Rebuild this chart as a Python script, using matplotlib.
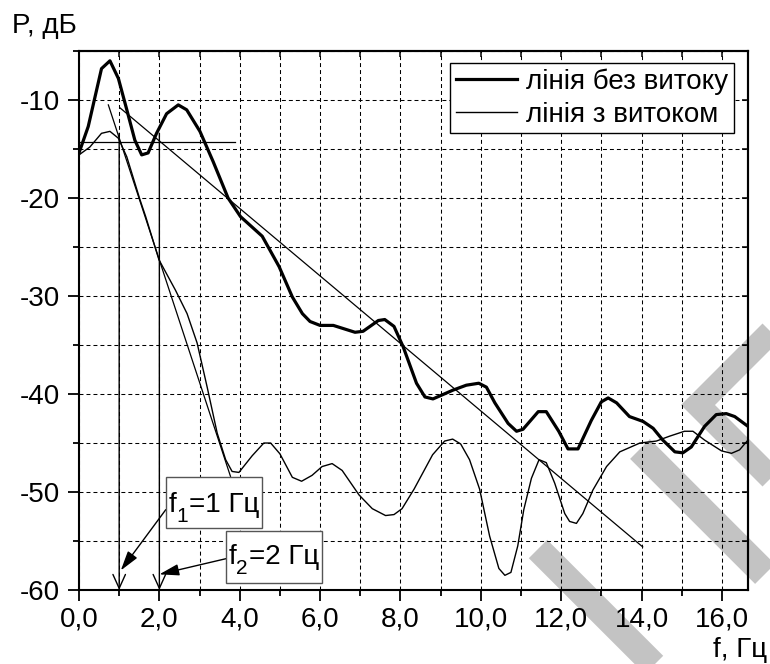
import matplotlib
matplotlib.use("Agg")
import matplotlib.pyplot as plt
from matplotlib.lines import Line2D
from matplotlib.patches import Rectangle
from matplotlib.ticker import MultipleLocator, FuncFormatter

plt.rcParams['font.family'] = ['Liberation Sans', 'DejaVu Sans']

# спектр лінії без витоку
f_no_leak = [0.0, 0.23, 0.56, 0.77, 0.98, 1.19, 1.39, 1.56, 1.72, 1.93, 2.18, 2.47, 2.68,
             3.01, 3.34, 3.71, 4.02, 4.56, 4.98, 5.31, 5.56, 5.75, 6.0, 6.33, 6.87, 7.07,
             7.45, 7.61, 7.84, 8.07, 8.4, 8.61, 8.81, 9.31, 9.64, 9.95, 10.14, 10.35, 10.68,
             10.89, 11.05, 11.43, 11.63, 11.94, 12.17, 12.42, 12.75, 13.0, 13.17, 13.38, 13.7,
             14.04, 14.29, 14.53, 14.83, 15.03, 15.24, 15.57, 15.86, 16.11, 16.32, 16.65]
p_no_leak = [-15.4, -12.7, -6.8, -6.0, -7.8, -11.0, -14.1, -15.6, -15.4, -13.4, -11.4, -10.5, -11.0,
             -13.2, -16.3, -20.0, -21.9, -23.9, -27.0, -30.1, -31.8, -32.6, -33.0, -33.0, -33.7, -33.6,
             -32.5, -32.4, -33.1, -35.2, -38.9, -40.3, -40.5, -39.6, -39.1, -38.9, -39.3, -40.9, -43.0,
             -43.8, -43.6, -41.8, -41.8, -43.8, -45.6, -45.6, -42.7, -40.8, -40.4, -40.9, -42.3,
             -42.8, -43.5, -44.7, -45.9, -46.0, -45.4, -43.3, -42.1, -42.0, -42.3, -43.3]

# спектр лінії з витоком
f_leak = [0.0, 0.27, 0.56, 0.77, 0.98, 1.19, 1.52, 1.66, 1.99, 2.4, 2.69, 2.94, 3.19, 3.44,
          3.65, 3.81, 3.98, 4.31, 4.6, 4.77, 5.0, 5.31, 5.54, 5.8, 6.05, 6.3, 6.55, 6.97,
          7.3, 7.63, 7.84, 8.04, 8.34, 8.8, 9.1, 9.3, 9.5, 9.72, 9.97, 10.22, 10.45, 10.6,
          10.75, 10.92, 11.07, 11.26, 11.45, 11.63, 11.84, 12.09, 12.21, 12.38, 12.54, 12.79,
          13.13, 13.46, 13.96, 14.37, 14.7, 15.07, 15.28, 15.57, 15.99, 16.24, 16.44, 16.65]
p_leak = [-15.6, -14.8, -13.4, -13.2, -13.9, -15.8, -20.2, -21.9, -26.3, -29.4, -31.8, -34.8, -39.3, -44.0,
          -46.7, -47.9, -48.0, -46.3, -45.0, -45.0, -46.1, -48.5, -48.9, -48.3, -47.4, -47.1, -47.8, -50.3,
          -51.7, -52.4, -52.3, -51.7, -49.7, -46.2, -44.8, -44.6, -45.1, -46.7, -49.7, -54.5, -57.8, -58.5,
          -58.2, -55.5, -51.8, -48.6, -46.7, -47.0, -49.1, -52.2, -53.0, -53.2, -52.2, -49.8,
          -47.4, -45.9, -45.0, -44.8, -44.3, -43.8, -43.8, -44.7, -45.8, -46.05, -45.7, -44.7]

# допоміжні побудови
level_x = [0.0, 3.88]
level_y = [-14.25, -14.25]
tangent1_x = [0.73, 3.77]
tangent1_y = [-10.5, -48.4]
tangent2_x = [1.02, 14.03]
tangent2_y = [-10.8, -55.6]
cutoff_f = [1.0, 2.0]
cutoff_top = -13.4

# підписи частот зрізу: індекс та значення
sub_idx = ['1', '2']
sub_val = ['=1 Гц', '=2 Гц']
text_base = [-52.0, -57.35]
box_x = [(2.16, 4.55), (3.66, 6.04)]
box_y = [(-53.7, -48.5), (-59.25, -54.0)]
arrow_from = [(2.16, -51.8), (3.66, -56.8)]
arrow_to = [(1.04, -58.0), (2.0, -58.4)]

fig = plt.figure(figsize=(7.7, 6.64), dpi=100)
ax = fig.add_axes([0.1026, 0.1114, 0.8688, 0.8118])
ax.patch.set_visible(False)

ax.plot(f_no_leak, p_no_leak, color='black', lw=2.3, solid_joinstyle='round', zorder=4)
ax.plot(f_leak, p_leak, color='black', lw=1.0, zorder=4)
ax.plot(level_x, level_y, color='black', lw=0.9, zorder=3)
ax.plot(tangent1_x, tangent1_y, color='black', lw=0.9, zorder=3)
ax.plot(tangent2_x, tangent2_y, color='black', lw=0.9, zorder=3)

for fc in cutoff_f:
    ax.annotate('', xy=(fc, -60), xytext=(fc, cutoff_top),
                arrowprops=dict(arrowstyle='->, head_length=1.0, head_width=0.45',
                                mutation_scale=10, lw=1.0, color='black',
                                shrinkA=0, shrinkB=0), zorder=3)

for idx, val, base, bx, by, a0, a1 in zip(sub_idx, sub_val, text_base, box_x, box_y,
                                          arrow_from, arrow_to):
    ax.annotate('', xy=a1, xytext=a0,
                arrowprops=dict(arrowstyle='-|>, head_length=1.2, head_width=0.35',
                                mutation_scale=10, lw=1.0, color='black',
                                shrinkA=0, shrinkB=0), zorder=5)
    ax.add_patch(Rectangle((bx[0], by[0]), bx[1] - bx[0], by[1] - by[0],
                           fc='white', ec='#555555', lw=1.0, zorder=6))
    anchor = (bx[0], base)
    ax.annotate('f', xy=anchor, xytext=(2.0, 0), textcoords='offset points',
                fontsize=20, ha='left', va='baseline', zorder=7)
    ax.annotate(idx, xy=anchor, xytext=(7.3, -7.2), textcoords='offset points',
                fontsize=15, ha='left', va='baseline', zorder=7)
    ax.annotate(val, xy=anchor, xytext=(16.4, 0), textcoords='offset points',
                fontsize=20, ha='left', va='baseline', zorder=7)

ax.set_xlim(0, 16.65)
ax.set_ylim(-60, -5)
ax.xaxis.set_major_locator(MultipleLocator(2))
ax.xaxis.set_minor_locator(MultipleLocator(1))
ax.yaxis.set_major_locator(MultipleLocator(10))
ax.yaxis.set_minor_locator(MultipleLocator(5))
ax.xaxis.set_major_formatter(FuncFormatter(lambda v, p: f'{v:.1f}'.replace('.', ',')))
ax.yaxis.set_major_formatter(FuncFormatter(lambda v, p: f'{v:.0f}'))
ax.grid(which='both', color='black', ls=(0, (3.8, 2.9)), lw=0.75)
ax.set_axisbelow(True)

ax.tick_params(which='major', direction='out', length=8, width=1.3, labelsize=20)
ax.tick_params(which='minor', direction='out', length=4.3, width=1.3)
ax.tick_params(axis='x', which='major', pad=4)
ax.tick_params(axis='y', which='major', pad=6)
for sp in ax.spines.values():
    sp.set_linewidth(1.5)

# верхні та праві риски всередину
sec_x = ax.secondary_xaxis('top')
sec_x.xaxis.set_major_locator(MultipleLocator(1))
sec_x.tick_params(direction='in', length=4, width=1.1, labeltop=False)
sec_x.spines['top'].set_linewidth(1.5)
sec_y = ax.secondary_yaxis('right')
sec_y.yaxis.set_major_locator(MultipleLocator(5))
sec_y.tick_params(direction='in', length=4, width=1.1, labelright=False)
sec_y.spines['right'].set_linewidth(1.5)

handles = [Line2D([], [], color='black', lw=2.3), Line2D([], [], color='black', lw=1.0)]
leg = ax.legend(handles, ['лінія без витоку', 'лінія з витоком'], loc='upper right',
                bbox_to_anchor=(0.9786, 0.978), fontsize=20, frameon=True, fancybox=False,
                framealpha=1, edgecolor='black', borderpad=0.2, labelspacing=0.25,
                handlelength=2.2, handletextpad=0.33, borderaxespad=0)
leg.get_frame().set_linewidth(1.0)
leg.set_zorder(8)

fig.text(12 / 770, 1 - 26 / 664, 'P, дБ', fontsize=20, ha='left', va='center')
fig.text(767 / 770, 1 - 650 / 664, 'f, Гц', fontsize=20, ha='right', va='center')

# водяний знак під графіком
wm = [([(538, 549), (668, 679)], 26),
      ([(640, 449), (765, 574)], 28),
      ([(795, 308), (698, 405), (795, 502)], 24)]
for seg, w in wm:
    xs = [p[0] / 770 for p in seg]
    ys = [1 - p[1] / 664 for p in seg]
    fig.add_artist(Line2D(xs, ys, color='#c3c3c3', lw=w * 0.72, solid_capstyle='butt',
                          solid_joinstyle='miter', zorder=-1))

fig.savefig('out.png', dpi=100)
